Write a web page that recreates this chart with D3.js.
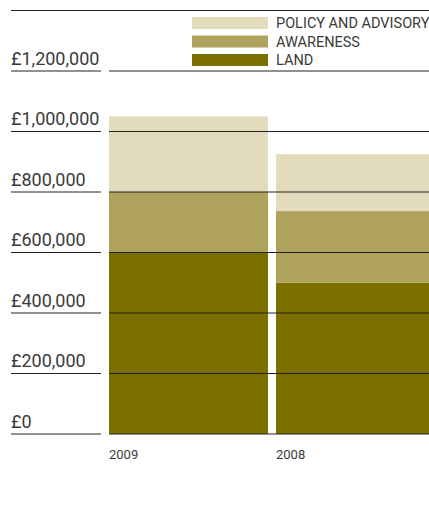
<!DOCTYPE html>
<html>
<head>
<meta charset="utf-8">
<script src="https://cdn.jsdelivr.net/npm/d3@7/dist/d3.min.js"></script>
<style>
  html, body { margin: 0; padding: 0; background: #fff; }
  svg { display: block; }
  text { font-family: Roboto, "DejaVu Sans", sans-serif; }
</style>
</head>
<body>
<svg id="chart" width="429" height="519"></svg>
<script>
// ---- data ----
const years = ["2009", "2008"];
const seriesNames = ["LAND", "AWARENESS", "POLICY AND ADVISORY"];
const land = [600000, 500000];
const awareness = [200000, 237000];
const policy = [250000, 188000];
const tickValues = [0, 200000, 400000, 600000, 800000, 1000000, 1200000];
const tickLabels = ["£0", "£200,000", "£400,000", "£600,000", "£800,000", "£1,000,000", "£1,200,000"];
const gridMax = 1400000;
const colors = ["#7b6f00", "#aea25c", "#e2dcbd"];

const svg = d3.select("#chart");
const W = 429;

const y = d3.scaleLinear().domain([0, gridMax]).range([434, 10.5]);
const x = d3.scaleBand().domain(years).range([109, 435]).paddingInner(8 / 167).paddingOuter(0);

const rows = years.map((yr, i) => ({ year: yr, LAND: land[i], AWARENESS: awareness[i], "POLICY AND ADVISORY": policy[i] }));
const stack = d3.stack().keys(seriesNames)(rows);

// bars
const plot = svg.append("g");
plot.selectAll("g.layer").data(stack).join("g")
  .attr("class", "layer")
  .attr("fill", (d, i) => colors[i])
  .selectAll("rect").data(d => d).join("rect")
  .attr("x", d => x(d.data.year))
  .attr("width", x.bandwidth())
  .attr("y", d => y(d[1]))
  .attr("height", d => y(d[0]) - y(d[1]));

// gridlines
const grid = svg.append("g").attr("stroke", "#222").attr("stroke-width", 1);
tickValues.forEach(v => {
  grid.append("line").attr("x1", 11).attr("x2", 101).attr("y1", y(v)).attr("y2", y(v));
  grid.append("line").attr("x1", 109).attr("x2", W).attr("y1", y(v)).attr("y2", y(v));
});
grid.append("line").attr("x1", 11).attr("x2", W).attr("y1", y(gridMax)).attr("y2", y(gridMax));

// y labels
svg.append("g").selectAll("text").data(tickValues).join("text")
  .attr("x", 11)
  .attr("y", d => y(d) - 6.5)
  .attr("fill", "#3a3a3a")
  .attr("font-size", "18px")
  .text((d, i) => tickLabels[i]);

// x labels
svg.append("g").selectAll("text").data(years).join("text")
  .attr("x", d => x(d))
  .attr("y", 459)
  .attr("fill", "#3a3a3a")
  .attr("font-size", "13px")
  .text(d => d);

// legend (top to bottom: policy, awareness, land)
const legendItems = seriesNames.map((n, i) => ({ name: n, color: colors[i] })).reverse();
const lg = svg.append("g").selectAll("g").data(legendItems).join("g")
  .attr("transform", (d, i) => `translate(192, ${17 + i * 18.5})`);
lg.append("rect").attr("width", 76).attr("height", 12).attr("fill", d => d.color);
lg.append("text").attr("x", 84).attr("y", 11.3)
  .attr("fill", "#3a3a3a").attr("font-size", "14.5px")
  .text(d => d.name);
</script>
</body>
</html>
